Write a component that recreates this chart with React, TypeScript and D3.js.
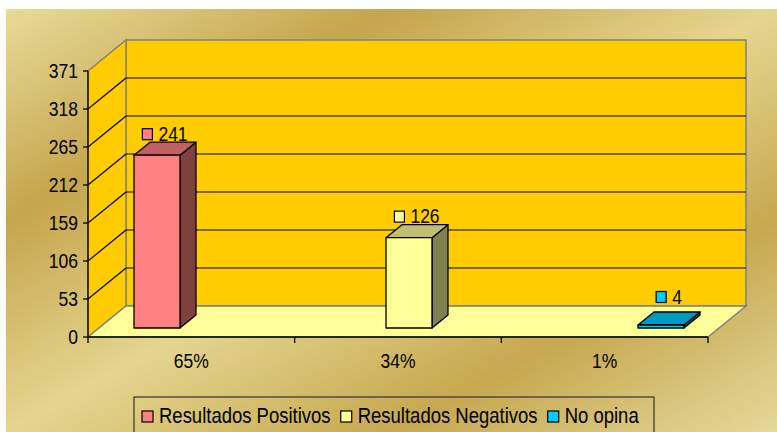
import React from "react";
import * as d3 from "d3";

const categories = ["65%", "34%", "1%"];
const seriesNames = ["Resultados Positivos", "Resultados Negativos", "No opina"];
const values = [241, 126, 4];
const yTicks = [0, 53, 106, 159, 212, 265, 318, 371];
const frontColors = ["#FF8080", "#FFFF99", "#00CCFF"];
const topColors = ["#C06060", "#BFBF73", "#0099C0"];
const sideColors = ["#804040", "#808050", "#006688"];

const FONT = "'Liberation Sans', Arial, sans-serif";
const STRETCH = 1.16;

function measure(text: string, size: number): number {
  if (typeof document === "undefined") return text.length * size * 0.55;
  const c = document.createElement("canvas");
  const ctx = c.getContext("2d");
  if (!ctx) return text.length * size * 0.55;
  ctx.font = `${size}px ${FONT}`;
  return ctx.measureText(text).width;
}

function T(props: { x: number; y: number; size: number; anchor?: string; children: any }) {
  return (
    <text
      transform={`translate(${props.x},${props.y}) scale(1,${STRETCH})`}
      fontSize={props.size}
      textAnchor={props.anchor || "start"}
      fill="#000"
    >
      {props.children}
    </text>
  );
}

export default function App() {
  const W = 777;
  const H = 432;
  const DX = 38;
  const DY = -31;
  const y = d3.scaleLinear().domain([0, 371]).range([337, 71]);
  const x = d3.scaleBand().domain(categories).range([88, 708]);
  const barX = d3.scalePoint().domain(categories).range([146, 650]);
  const x0 = 88;
  const x1 = 708;
  const yb = y(0);
  const yt = y(371);
  const BW = 46;
  const BDX = 16;
  const BDY = -13;
  const OFFX = 11;
  const OFFY = -9;
  const pts = (a: number[][]) => a.map((p) => p.join(",")).join(" ");

  const numSize = 17.5;
  const legSize = 18.5;

  let lx = 142;
  const legendItems = seriesNames.map((n, i) => {
    const item = { name: n, x: lx, color: frontColors[i] };
    lx += 11 + 6 + measure(n, legSize) + 10;
    return item;
  });

  return (
    <svg
      width={W}
      height={H}
      style={{ position: "absolute", left: 0, top: 0, background: "#fff" }}
      fontFamily={FONT}
    >
      <defs>
        <linearGradient id="gold" x1="0" y1="0" x2="1" y2="1">
          <stop offset="0" stopColor="#E8DB98" />
          <stop offset="0.25" stopColor="#C5A54D" />
          <stop offset="0.5" stopColor="#E5D58F" />
          <stop offset="0.75" stopColor="#C6A850" />
          <stop offset="1" stopColor="#E6D89A" />
        </linearGradient>
      </defs>
      <rect x={6} y={9} width={W - 6} height={H - 9} fill="url(#gold)" />

      <rect
        x={x0 + DX}
        y={yt + DY}
        width={x1 - x0}
        height={yb - yt}
        fill="#FFCC00"
        stroke="#808080"
        strokeWidth={1.5}
      />
      <polygon
        points={pts([
          [x0, yt],
          [x0 + DX, yt + DY],
          [x0 + DX, yb + DY],
          [x0, yb],
        ])}
        fill="#FFCC00"
        stroke="#808080"
        strokeWidth={1.5}
      />
      <polygon
        points={pts([
          [x0, yb],
          [x0 + DX, yb + DY],
          [x1 + DX, yb + DY],
          [x1, yb],
        ])}
        fill="#FFFF99"
        stroke="#808080"
        strokeWidth={1.5}
      />
      {yTicks
        .filter((t) => t !== 0 && t !== 371)
        .map((t) => (
          <g key={t}>
            <line x1={x0} y1={y(t)} x2={x0 + DX} y2={y(t) + DY} stroke="#000" strokeWidth={1.2} />
            <line x1={x0 + DX} y1={y(t) + DY} x2={x1 + DX} y2={y(t) + DY} stroke="#000" strokeWidth={1.2} />
          </g>
        ))}

      {categories.map((c, i) => {
        const v = values[i];
        const fx0 = (barX(c) as number) + OFFX - BW / 2;
        const fx1 = fx0 + BW;
        const ftop = Math.min(y(v) + OFFY, y(0) + OFFY - 3);
        const fbot = y(0) + OFFY;
        return (
          <g key={c} stroke="#000" strokeWidth={1.3} strokeLinejoin="round">
            <polygon
              points={pts([
                [fx1, ftop],
                [fx1 + BDX, ftop + BDY],
                [fx1 + BDX, fbot + BDY],
                [fx1, fbot],
              ])}
              fill={sideColors[i]}
            />
            <polygon
              points={pts([
                [fx0, ftop],
                [fx1, ftop],
                [fx1 + BDX, ftop + BDY],
                [fx0 + BDX, ftop + BDY],
              ])}
              fill={topColors[i]}
            />
            <rect x={fx0} y={ftop} width={BW} height={fbot - ftop} fill={frontColors[i]} />
          </g>
        );
      })}

      {categories.map((c, i) => {
        const v = values[i];
        const label = String(v);
        const tw = measure(label, numSize);
        const total = 11 + 5 + tw;
        const cx = (barX(c) as number) + OFFX + BDX / 2;
        const ftop = Math.min(y(v) + OFFY, y(0) + OFFY - 3);
        const base = ftop + BDY / 2 - (i === 2 ? 15 : 8);
        const sx = cx - total / 2;
        return (
          <g key={"l" + c}>
            <rect x={sx} y={base - 12} width={10} height={11} fill={frontColors[i]} stroke="#000" strokeWidth={1.2} />
            <T x={sx + 16} y={base} size={numSize}>
              {label}
            </T>
          </g>
        );
      })}

      <line x1={x0} y1={yt} x2={x0} y2={yb} stroke="#000" strokeWidth={1.3} />
      {yTicks.map((t) => (
        <g key={"t" + t}>
          <line x1={x0 - 5} y1={y(t)} x2={x0} y2={y(t)} stroke="#000" strokeWidth={1.3} />
          <T x={x0 - 10} y={y(t) + 7} size={numSize} anchor="end">
            {t}
          </T>
        </g>
      ))}

      <line x1={x0} y1={yb} x2={x1} y2={yb} stroke="#000" strokeWidth={1.3} />
      {[...categories.map((c) => x(c) as number), x1].map((px, i) => (
        <line key={"xt" + i} x1={px} y1={yb} x2={px} y2={yb + 6} stroke="#000" strokeWidth={1.3} />
      ))}
      {categories.map((c) => (
        <T key={"c" + c} x={(x(c) as number) + x.bandwidth() / 2} y={368} size={numSize} anchor="middle">
          {c}
        </T>
      ))}

      <rect x={134} y={397} width={520} height={45} fill="none" stroke="#333" strokeWidth={1.2} />
      {legendItems.map((it, i) => (
        <g key={"lg" + i}>
          <rect x={it.x} y={411} width={11} height={11} fill={it.color} stroke="#000" strokeWidth={1.2} />
          <T x={it.x + 17} y={423} size={legSize}>
            {it.name}
          </T>
        </g>
      ))}
    </svg>
  );
}
